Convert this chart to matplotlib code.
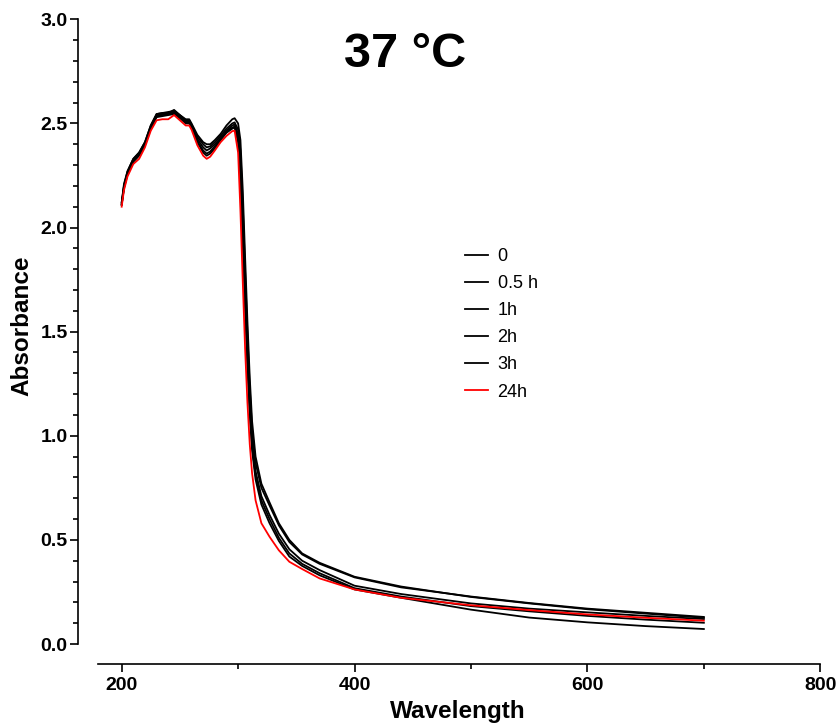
import numpy as np
import matplotlib.pyplot as plt
from matplotlib.ticker import MultipleLocator, FormatStrFormatter

plt.rcParams['font.family'] = ['Liberation Sans', 'DejaVu Sans']

# wavelength (nm) shared by all spectra
wavelength = [200, 202, 205, 210, 215, 220, 225, 230, 235, 240, 245, 250, 255, 258, 260,
              265, 270, 273, 276, 280, 285, 290, 295, 297, 300, 302, 304, 306, 308, 310,
              312, 315, 320, 327, 335, 344, 355, 370, 400, 440, 500, 550, 600, 650, 700]

# absorbance
abs_0 = [2.12, 2.20, 2.27, 2.33, 2.36, 2.41, 2.49, 2.545, 2.55, 2.55, 2.565, 2.54, 2.52, 2.52, 2.50,
         2.445, 2.41, 2.40, 2.40, 2.42, 2.45, 2.49, 2.52, 2.525, 2.50, 2.42, 2.18, 1.86, 1.55, 1.28,
         1.07, 0.90, 0.77, 0.68, 0.58, 0.50, 0.435, 0.39, 0.323, 0.276, 0.226, 0.195, 0.167, 0.146, 0.126]
abs_05 = [2.12, 2.21, 2.27, 2.33, 2.36, 2.41, 2.49, 2.545, 2.55, 2.555, 2.56, 2.54, 2.515, 2.515, 2.495,
          2.435, 2.40, 2.385, 2.39, 2.41, 2.44, 2.475, 2.50, 2.505, 2.47, 2.37, 2.11, 1.79, 1.49, 1.23,
          1.03, 0.87, 0.75, 0.665, 0.57, 0.49, 0.43, 0.385, 0.32, 0.272, 0.228, 0.197, 0.17, 0.15, 0.13]
abs_1 = [2.11, 2.20, 2.26, 2.32, 2.35, 2.40, 2.48, 2.54, 2.545, 2.55, 2.555, 2.535, 2.51, 2.51, 2.49,
         2.425, 2.385, 2.37, 2.38, 2.40, 2.43, 2.465, 2.49, 2.495, 2.45, 2.32, 2.03, 1.70, 1.41, 1.16,
         0.98, 0.83, 0.71, 0.62, 0.53, 0.455, 0.40, 0.355, 0.28, 0.24, 0.195, 0.17, 0.152, 0.135, 0.12]
abs_2 = [2.11, 2.19, 2.26, 2.32, 2.35, 2.40, 2.48, 2.535, 2.54, 2.545, 2.55, 2.53, 2.505, 2.505, 2.485,
         2.415, 2.37, 2.355, 2.365, 2.39, 2.425, 2.46, 2.48, 2.485, 2.43, 2.28, 1.98, 1.66, 1.37, 1.13,
         0.95, 0.81, 0.69, 0.60, 0.51, 0.435, 0.385, 0.34, 0.268, 0.228, 0.182, 0.157, 0.135, 0.117, 0.102]
abs_3 = [2.11, 2.19, 2.255, 2.315, 2.345, 2.395, 2.475, 2.53, 2.535, 2.54, 2.545, 2.525, 2.50, 2.50, 2.48,
         2.41, 2.36, 2.345, 2.355, 2.38, 2.42, 2.455, 2.475, 2.48, 2.41, 2.24, 1.93, 1.61, 1.33, 1.10,
         0.93, 0.79, 0.67, 0.58, 0.495, 0.42, 0.375, 0.33, 0.262, 0.222, 0.165, 0.127, 0.104, 0.086, 0.072]
abs_24 = [2.10, 2.18, 2.245, 2.305, 2.33, 2.385, 2.465, 2.515, 2.52, 2.52, 2.54, 2.515, 2.49, 2.49, 2.47,
          2.395, 2.345, 2.33, 2.34, 2.37, 2.41, 2.44, 2.463, 2.465, 2.36, 2.08, 1.74, 1.42, 1.16, 0.96,
          0.82, 0.69, 0.58, 0.515, 0.45, 0.395, 0.36, 0.315, 0.262, 0.222, 0.186, 0.163, 0.142, 0.126, 0.112]

labels = ['0', '0.5 h', '1h', '2h', '3h', '24h']
series = [abs_0, abs_05, abs_1, abs_2, abs_3, abs_24]
colors = ['black', 'black', 'black', 'black', 'black', 'red']

fig = plt.figure(figsize=(8.39, 7.28), dpi=100)
ax = fig.add_axes([0.09297, 0.08791, 0.88474, 0.88558])

for y, lab, c in zip(series, labels, colors):
    ax.plot(wavelength, y, color=c, lw=1.3, label=lab)

ax.set_xlim(162.5, 800)
ax.set_ylim(-0.096, 3.0)

# prism style axes: detached, no top/right
ax.spines['top'].set_visible(False)
ax.spines['right'].set_visible(False)
ax.spines['left'].set_bounds(0, 3.0)
ax.spines['bottom'].set_bounds(180, 800)
for s in ['left', 'bottom']:
    ax.spines[s].set_linewidth(1.2)

ax.set_xticks([200, 400, 600, 800])
ax.set_xticks([300, 500, 700], minor=True)
ax.yaxis.set_major_locator(MultipleLocator(0.5))
ax.yaxis.set_minor_locator(MultipleLocator(0.1))
ax.yaxis.set_major_formatter(FormatStrFormatter('%.1f'))

ax.tick_params(which='major', length=6, width=1.2, labelsize=14)
ax.tick_params(which='minor', length=3.5, width=1.2)
ax.tick_params(axis='y', which='major', pad=1.5)
ax.tick_params(axis='x', which='major', pad=3)
for t in ax.get_xticklabels() + ax.get_yticklabels():
    t.set_fontweight('bold')

fig.text(0.4827, 0.9245, '37 \u00b0C', fontsize=35, fontweight='bold', ha='center', va='center')
fig.text(0.0262, 0.553, 'Absorbance', fontsize=17.5, fontweight='bold', rotation=90,
         ha='center', va='center')
fig.text(0.5459, 0.022, 'Wavelength', fontsize=17.5, fontweight='bold', ha='center', va='center')

ax.legend(loc='upper left', bbox_to_anchor=(465/839, 1 - 248/728), bbox_transform=fig.transFigure,
          frameon=False, fontsize=13, handlelength=1.25, handletextpad=0.55,
          labelspacing=0.56, borderpad=0, borderaxespad=0)

fig.savefig('out.png', dpi=100)
